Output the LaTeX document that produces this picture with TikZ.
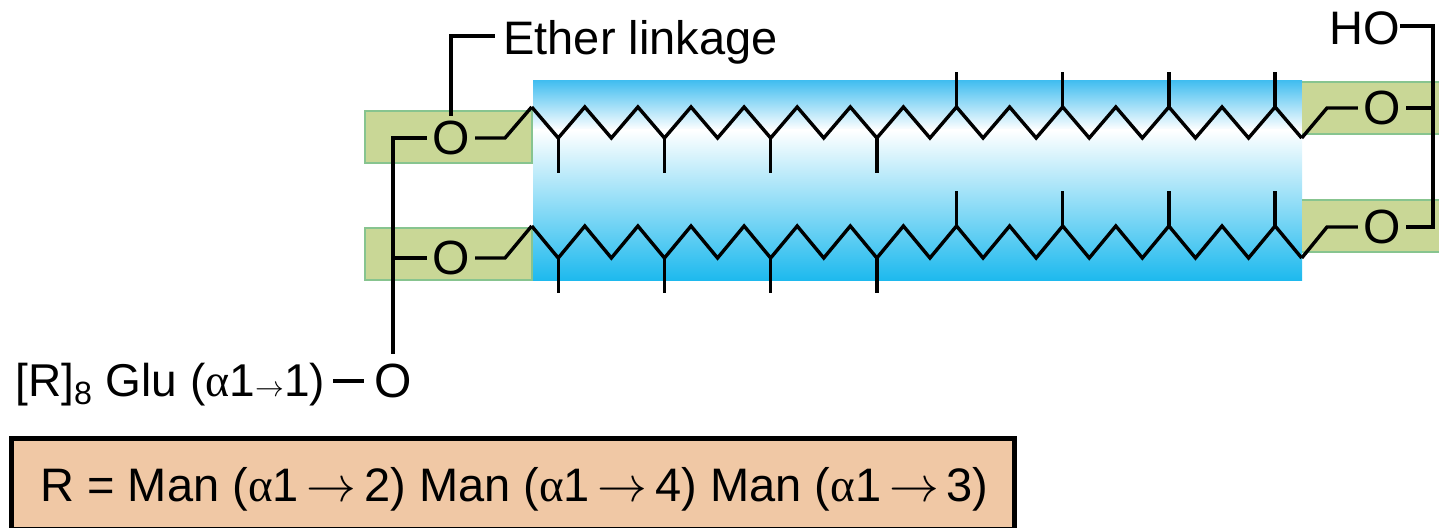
\documentclass[tikz,border=0pt]{standalone}
\usepackage{fontspec}
\setmainfont{Liberation Sans}
\newfontfamily\greekfont{Liberation Serif}
\usetikzlibrary{positioning}
\definecolor{lipidblue}{RGB}{28,185,238}
\definecolor{lipidtop}{RGB}{67,190,240}
\definecolor{headgreen}{RGB}{201,215,150}
\definecolor{headedge}{RGB}{135,196,143}
\definecolor{sugarbox}{RGB}{240,200,165}
\newcommand{\al}{{\greekfont α}}
\newcommand{\smallarrow}{{\fontsize{15}{15}\selectfont$\rightarrow$}}
\newcommand{\midarrow}{{\fontsize{23}{26}\selectfont$\rightarrow$}}
\tikzset{
  bond/.style={black, line width=1.7pt, line join=miter},
  atom/.style={inner sep=2.5pt, font=\fontsize{24}{26}\selectfont},
  label/.style={inner sep=0pt, anchor=base west, font=\fontsize{23.5}{26}\selectfont},
  head/.style={fill=headgreen},
  headline/.style={headedge, line width=1.1pt}
}
\begin{document}
\begin{tikzpicture}[x=0.5pt, y=-0.5pt]
  \useasboundingbox (0, 0) rectangle (1439, 528);
  % membrane
  \shade [top color=lipidtop, bottom color=white] (533, 81) rectangle (1302, 130);
  \shade [top color=white, bottom color=lipidblue] (533, 130) rectangle (1302, 281);
  % head groups
  \filldraw [head, draw=headedge, line width=1.1pt] (365, 111) rectangle (532, 163);
  \filldraw [head, draw=headedge, line width=1.1pt] (365, 228) rectangle (532, 280);
  \fill [head] (1302, 82) rectangle (1439, 134);
  \fill [head] (1302, 200) rectangle (1439, 252);
  \draw [headline] (1302, 82) -- (1439, 82);
  \draw [headline] (1302, 134) -- (1439, 134);
  \draw [headline] (1302, 200) -- (1439, 200);
  \draw [headline] (1302, 252) -- (1439, 252);
  % sugar box
  \filldraw [fill=sugarbox, draw=black, line width=2.5pt] (11, 439) rectangle (1014, 529.5);
  % chains
  \foreach \ytop/\ybot/\name in {107/138/a, 226/258/b} {
    \coordinate (\name start) at (531.7, \ytop);
    \coordinate (\name end) at (1301.7, \ybot);
    \draw [bond] (\name start)
      \foreach \k in {1, ..., 29} {
        -- ({531.7 + 26.55 * \k}, {mod(\k, 2) == 1 ? \ybot : \ytop})
      };
    \foreach \k in {0, 1, 2, 3} {
      \draw [bond] ({558.25 + 106.2 * \k}, \ybot) -- ({558.25 + 106.2 * \k}, \ybot + 35);
      \draw [bond] ({956.5 + 106.2 * \k}, \ytop) -- ({956.5 + 106.2 * \k}, \ytop - 35);
    }
  }
  % atoms
  \node [atom] (oa) at (451, 138) {O};
  \node [atom] (ob) at (451, 258) {O};
  \node [atom] (oc) at (1382, 108) {O};
  \node [atom] (od) at (1382, 227) {O};
  \node [label] (ether) at (503, 55) {Ether linkage};
  \node [label] (ho) at (1329, 45) {HO};
  \node [label, font=\fontsize{23}{26}\selectfont] (glu) at (15, 397) {[R]\textsubscript{8} Glu (\al1\smallarrow1)};
  \node [atom, inner sep=5pt] (oe) at (393, 381) {O};
  \node [label] (manno) at (40, 502) {R = Man (\al1\,\midarrow\,2) Man (\al1\,\midarrow\,4) Man (\al1\,\midarrow\,3)};
  % links
  \coordinate (ka) at (505, 138);
  \coordinate (kb) at (505, 258);
  \coordinate (kc) at (1327, 108);
  \coordinate (kd) at (1327, 227);
  \coordinate (spinetop) at (393, 138);
  \coordinate (spinemid) at (393, 258);
  \coordinate (railtop) at (1433, 26);
  \coordinate (railmid) at (1433, 108);
  \coordinate (railbot) at (1433, 227);
  \coordinate (etherbend) at (450, 36);
  \draw [bond] (astart) -- (ka) -- (oa);
  \draw [bond] (bstart) -- (kb) -- (ob);
  \draw [bond] (aend) -- (kc) -- (oc);
  \draw [bond] (bend) -- (kd) -- (od);
  \draw [bond] (oa) -- (spinetop) -- (oe);
  \draw [bond] (ob) -- (spinemid);
  \draw [bond] (oc) -- (railmid);
  \draw [bond] (od) -- (railbot) -- (railtop) -- (ho.east |- railtop);
  \draw [bond] (oa) -- (oa |- etherbend) -- ([xshift=-4pt]ether.west |- etherbend);
  \draw [bond] ([xshift=4pt]glu.east |- oe.center) -- (oe);
\end{tikzpicture}
\end{document}
